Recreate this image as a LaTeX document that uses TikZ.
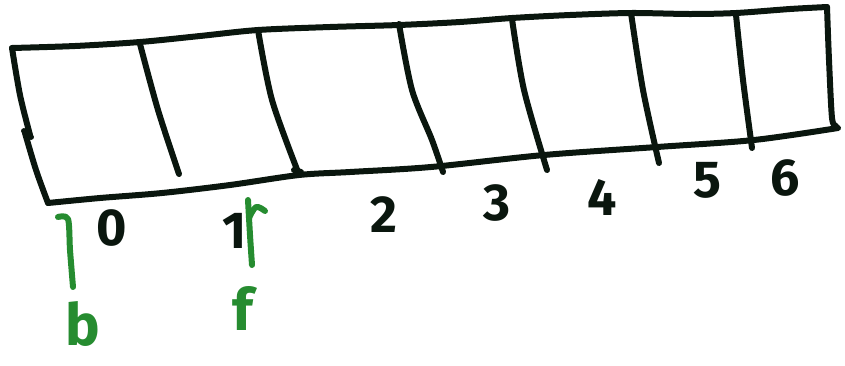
\documentclass[tikz,border=0pt]{standalone}
\usepackage{fontspec}
\setmainfont{Fira Sans}
\definecolor{ink}{RGB}{10,22,14}
\definecolor{pen}{RGB}{38,140,48}
\tikzset{
  stroke/.style={draw=ink, line width=6pt, line cap=round, line join=round},
  gstroke/.style={draw=pen, line width=6pt, line cap=round, line join=round},
  digit/.style={text=ink, font=\fontsize{52}{54}\selectfont\bfseries, inner sep=0pt},
  glabel/.style={text=pen, font=\fontsize{58}{60}\selectfont\bfseries, inner sep=0pt}
}
\begin{document}
\begin{tikzpicture}[x=1pt,y=-1pt]
\useasboundingbox (0,0) rectangle (845,365);
% outline of the array
\draw[stroke] plot[smooth, tension=0.5] coordinates {(12,48) (75,46) (140,42) (200,36) (258,30) (330,27) (399,25) (460,22) (512,18) (570,15) (631,13) (690,14) (736,13) (790,9) (827,7)};
\draw[stroke] plot[smooth, tension=0.5] coordinates {(827,7) (829,60) (832,118) (836,126)};
\draw[stroke] plot[smooth, tension=0.5] coordinates {(838,128) (754,140) (657,147) (544,155) (431,167) (350,172) (299,175) (230,185) (162,193) (100,198) (48,203)};
\draw[stroke] plot[smooth, tension=0.5] coordinates {(12,48) (20,95) (30,135)};
\draw[stroke] (24,131) -- (31,137);
\draw[stroke] plot[smooth, tension=0.5] coordinates {(25,133) (36,170) (48,203)};
% dividers
\draw[stroke] plot[smooth, tension=0.5] coordinates {(140,44) (158,110) (179,174)};
\draw[stroke] plot[smooth, tension=0.5] coordinates {(258,30) (272,100) (298,172)};
\draw[stroke] (294,170) -- (301,172);
\draw[stroke] plot[smooth, tension=0.5] coordinates {(399,24) (412,90) (432,140) (443,172)};
\draw[stroke] plot[smooth, tension=0.5] coordinates {(512,19) (524,90) (547,170)};
\draw[stroke] plot[smooth, tension=0.5] coordinates {(631,13) (643,90) (659,163)};
\draw[stroke] plot[smooth, tension=0.5] coordinates {(736,15) (743,80) (752,148)};
% index labels
\node[digit] (d0) at (112,228) {0};
\node[digit] (d1) at (235,231) {1};
\node[digit] (d2) at (384,215) {2};
\node[digit] (d3) at (497,203) {3};
\node[digit] (d4) at (602,197) {4};
\node[digit] (d5) at (707,180) {5};
\node[digit] (d6) at (785,178) {6};
% green pointers
\draw[gstroke] plot[smooth, tension=0.5] coordinates {(58,217) (68,219) (70,250) (73,287)};
\draw[gstroke] plot[smooth, tension=0.5] coordinates {(248,200) (250,235) (252,265)};
\draw[gstroke] plot[smooth, tension=0.6] coordinates {(249,218) (256,207) (265,211)};
\node[glabel] (b) at (83,324) {b};
\node[glabel] (f) at (243,308) {f};
\end{tikzpicture}
\end{document}
